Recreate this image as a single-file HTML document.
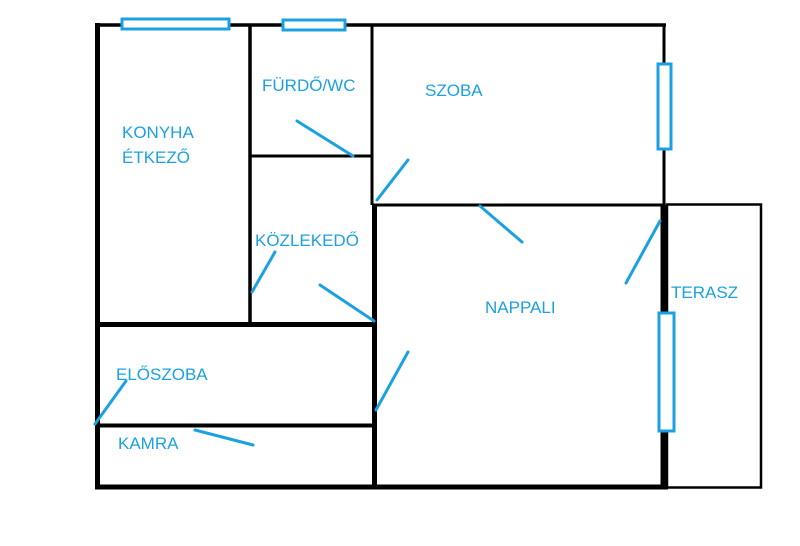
<!DOCTYPE html>
<html><head><meta charset="utf-8"><style>
html,body{margin:0;padding:0;background:#fff;width:800px;height:546px;overflow:hidden}
text{font-family:"Liberation Sans","DejaVu Sans",sans-serif;font-size:17px;fill:#1ba1e2}
</style></head><body>
<svg width="800" height="546" viewBox="0 0 800 546" xmlns="http://www.w3.org/2000/svg">
<g stroke="#000" fill="none">
<!-- outer top -->
<line x1="95" y1="25" x2="666" y2="25" stroke-width="3.5"/>
<!-- outer left -->
<line x1="97.5" y1="23" x2="97.5" y2="489" stroke-width="5"/>
<!-- bottom -->
<line x1="95" y1="487" x2="668" y2="487" stroke-width="5"/>
<!-- kitchen right -->
<line x1="250" y1="25" x2="250" y2="325" stroke-width="3.5"/>
<!-- bath/szoba wall -->
<line x1="372" y1="25" x2="372" y2="205" stroke-width="3"/>
<!-- bath bottom -->
<line x1="250" y1="156" x2="372" y2="156" stroke-width="3"/>
<!-- y325 wall -->
<line x1="97" y1="324.5" x2="376" y2="324.5" stroke-width="5"/>
<!-- nappali left -->
<line x1="374.5" y1="204" x2="374.5" y2="487" stroke-width="5"/>
<!-- szoba right -->
<line x1="664" y1="25" x2="664" y2="205" stroke-width="3"/>
<!-- nappali top -->
<line x1="372" y1="205" x2="664" y2="205" stroke-width="3"/>
<!-- nappali right -->
<line x1="664" y1="205" x2="664" y2="489" stroke-width="7"/>
<!-- elöszoba/kamra divider -->
<line x1="97" y1="425.5" x2="374" y2="425.5" stroke-width="4"/>
<!-- terasz -->
<rect x="667" y="204.5" width="94" height="283" stroke-width="2.5"/>
</g>
<g stroke="#1ba1e2" stroke-width="3" fill="#fff">
<rect x="122" y="19" width="107" height="10"/>
<rect x="283" y="20" width="62" height="10"/>
<rect x="658" y="64" width="13" height="85"/>
<rect x="659" y="313" width="15" height="118"/>
</g>
<g stroke="#1ba1e2" stroke-width="3" stroke-linecap="round">
<line x1="297" y1="121" x2="353" y2="156"/>
<line x1="377" y1="200" x2="408" y2="160"/>
<line x1="252" y1="292" x2="275" y2="252"/>
<line x1="320" y1="285" x2="374" y2="321"/>
<line x1="480" y1="206" x2="522" y2="242"/>
<line x1="626" y1="283" x2="660" y2="221"/>
<line x1="376" y1="410" x2="408" y2="352"/>
<line x1="95" y1="424" x2="126" y2="381"/>
<line x1="195" y1="430" x2="253" y2="445"/>
</g>
<text x="122" y="138">KONYHA</text>
<text x="122" y="163">ÉTKEZŐ</text>
<text x="262" y="91">FÜRDŐ/WC</text>
<text x="425" y="96">SZOBA</text>
<text x="255" y="246">KÖZLEKEDŐ</text>
<text x="485" y="313">NAPPALI</text>
<text x="671" y="298">TERASZ</text>
<text x="116" y="380">ELŐSZOBA</text>
<text x="118" y="449">KAMRA</text>
</svg>
</body></html>
